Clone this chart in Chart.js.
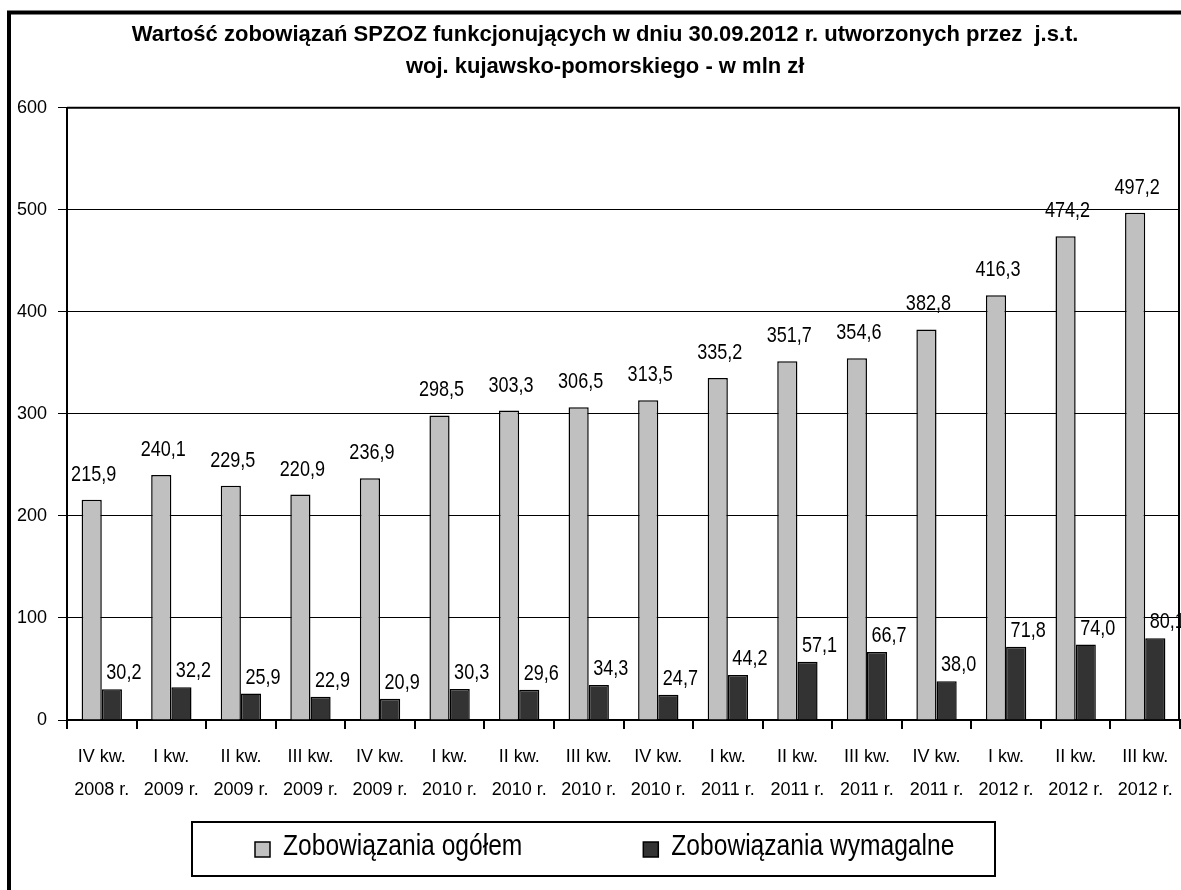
<!DOCTYPE html>
<html>
<head>
<meta charset="utf-8">
<script src="https://cdn.jsdelivr.net/npm/chart.js@4.4.0/dist/chart.umd.min.js"></script>
<style>
  html, body { margin: 0; padding: 0; background: #fff; overflow: hidden; }
  #wrap { width: 1181px; height: 890px; position: relative; }
</style>
</head>
<body>
<div id="wrap"><canvas id="graph"></canvas></div>
<script>
const quarters = ["IV", "I", "II", "III", "IV", "I", "II", "III", "IV", "I", "II", "III", "IV", "I", "II", "III"];
const years = ["2008", "2009", "2009", "2009", "2009", "2010", "2010", "2010", "2010", "2011", "2011", "2011", "2011", "2012", "2012", "2012"];
const ogolem = [215.9, 240.1, 229.5, 220.9, 236.9, 298.5, 303.3, 306.5, 313.5, 335.2, 351.7, 354.6, 382.8, 416.3, 474.2, 497.2];
const wymagalne = [30.2, 32.2, 25.9, 22.9, 20.9, 30.3, 29.6, 34.3, 24.7, 44.2, 57.1, 66.7, 38.0, 71.8, 74.0, 80.1];
const yTicks = [0, 100, 200, 300, 400, 500, 600];

const labels = quarters.map((q, i) => [q + " kw.", years[i] + " r."]);

const SANS = "'Liberation Sans', Arial, sans-serif";
const SQUEEZE = 0.82; // the original text looks horizontally condensed

// draw text squeezed horizontally around (x, y)
function narrowText(c, txt, x, y) {
  c.save();
  c.translate(x, y);
  c.scale(SQUEEZE, 1);
  c.fillText(txt, 0, 0);
  c.restore();
}

// frame around the whole picture + plot border
const frame = {
  id: "frame",
  beforeDraw(chart) {
    const c = chart.ctx;
    c.save();
    c.fillStyle = "#fff";
    c.fillRect(0, 0, chart.width, chart.height);
    c.strokeStyle = "#000";
    c.lineWidth = 4;
    c.strokeRect(9, 12.5, 1300, 1000);
    c.restore();
  },
  afterDraw(chart) {
    const a = chart.chartArea;
    const c = chart.ctx;
    c.save();
    c.strokeStyle = "#000";
    c.lineWidth = 2;
    c.beginPath();
    c.moveTo(a.left, a.top);
    c.lineTo(a.right - 1, a.top);
    c.lineTo(a.right - 1, a.bottom);
    c.stroke();
    c.restore();
  }
};

// value labels over the bars
const barValues = {
  id: "barValues",
  afterDatasetsDraw(chart) {
    const c = chart.ctx;
    c.save();
    c.font = "22px " + SANS;
    c.fillStyle = "#000";
    c.textAlign = "center";
    c.textBaseline = "middle";
    chart.data.datasets.forEach((ds, di) => {
      const dx = di === 0 ? 2 : 12;
      const dy = di === 0 ? 25 : 16;
      chart.getDatasetMeta(di).data.forEach((bar, i) => {
        const txt = ds.data[i].toFixed(1).replace(".", ",");
        narrowText(c, txt, bar.x + dx, bar.y - dy);
      });
    });
    c.restore();
  }
};

// boxed legend under the axis
const boxLegend = {
  id: "boxLegend",
  afterDraw(chart) {
    const c = chart.ctx;
    c.save();
    c.strokeStyle = "#000";
    c.lineWidth = 2;
    c.strokeRect(192, 822, 803, 54);
    c.font = "30px " + SANS;
    c.textBaseline = "middle";
    c.textAlign = "left";
    let x = 255;
    chart.data.datasets.forEach((ds) => {
      c.fillStyle = ds.backgroundColor;
      c.fillRect(x, 842, 15, 15);
      c.lineWidth = 1.5;
      c.strokeRect(x, 842, 15, 15);
      c.fillStyle = "#000";
      narrowText(c, ds.label, x + 28, 847);
      x += 28 + c.measureText(ds.label).width * SQUEEZE + 121;
    });
    c.restore();
  }
};

const graph = document.getElementById("graph").getContext("2d");

let myChart = new Chart(graph, {
  type: "bar",
  data: {
    labels: labels,
    datasets: [
      {
        label: "Zobowiązania ogółem",
        data: ogolem,
        backgroundColor: "#c0c0c0",
        borderColor: "#000",
        borderWidth: 1.5,
      },
      {
        label: "Zobowiązania wymagalne",
        data: wymagalne,
        backgroundColor: "#333333",
        borderColor: "#000",
        borderWidth: 1.5,
      },
    ],
  },
  options: {
    responsive: true,
    maintainAspectRatio: false,
    animation: false,
    categoryPercentage: 0.58,
    barPercentage: 1,
    layout: {
      padding: { left: 12, right: 1, top: 0, bottom: 70 },
    },
    plugins: {
      legend: { display: false },
      tooltip: { enabled: false },
      title: {
        display: true,
        text: [
          "   Wartość zobowiązań SPZOZ funkcjonujących w dniu 30.09.2012 r. utworzonych przez  j.s.t.",
          "   woj. kujawsko-pomorskiego - w mln zł",
        ],
        color: "#000",
        font: { family: SANS, size: 22, weight: "bold", lineHeight: 1.45 },
        padding: { top: 19, bottom: 25 },
      },
    },
    scales: {
      x: {
        grid: {
          display: true,
          drawOnChartArea: false,
          drawTicks: true,
          tickLength: 9,
          color: "#000",
          lineWidth: 2,
          offset: true,
        },
        border: { display: true, color: "#000", width: 2 },
        ticks: {
          color: "#000",
          padding: 12,
          maxRotation: 0,
          autoSkip: false,
          font: { family: SANS, size: 18, lineHeight: 1.8 },
        },
        afterFit(axis) {
          axis.height = 100;
          axis.paddingLeft = 0;
          axis.paddingRight = 0;
        },
      },
      y: {
        min: 0,
        max: 600,
        afterBuildTicks(axis) {
          axis.ticks = yTicks.map((v) => ({ value: v }));
        },
        grid: {
          color: "#000",
          lineWidth: 1,
          tickLength: 9,
        },
        border: { display: true, color: "#000", width: 2 },
        ticks: {
          color: "#000",
          padding: 11,
          font: { family: SANS, size: 18 },
        },
        afterFit(axis) {
          axis.width = 55;
        },
      },
    },
  },
  plugins: [frame, barValues, boxLegend],
});
</script>
</body>
</html>
